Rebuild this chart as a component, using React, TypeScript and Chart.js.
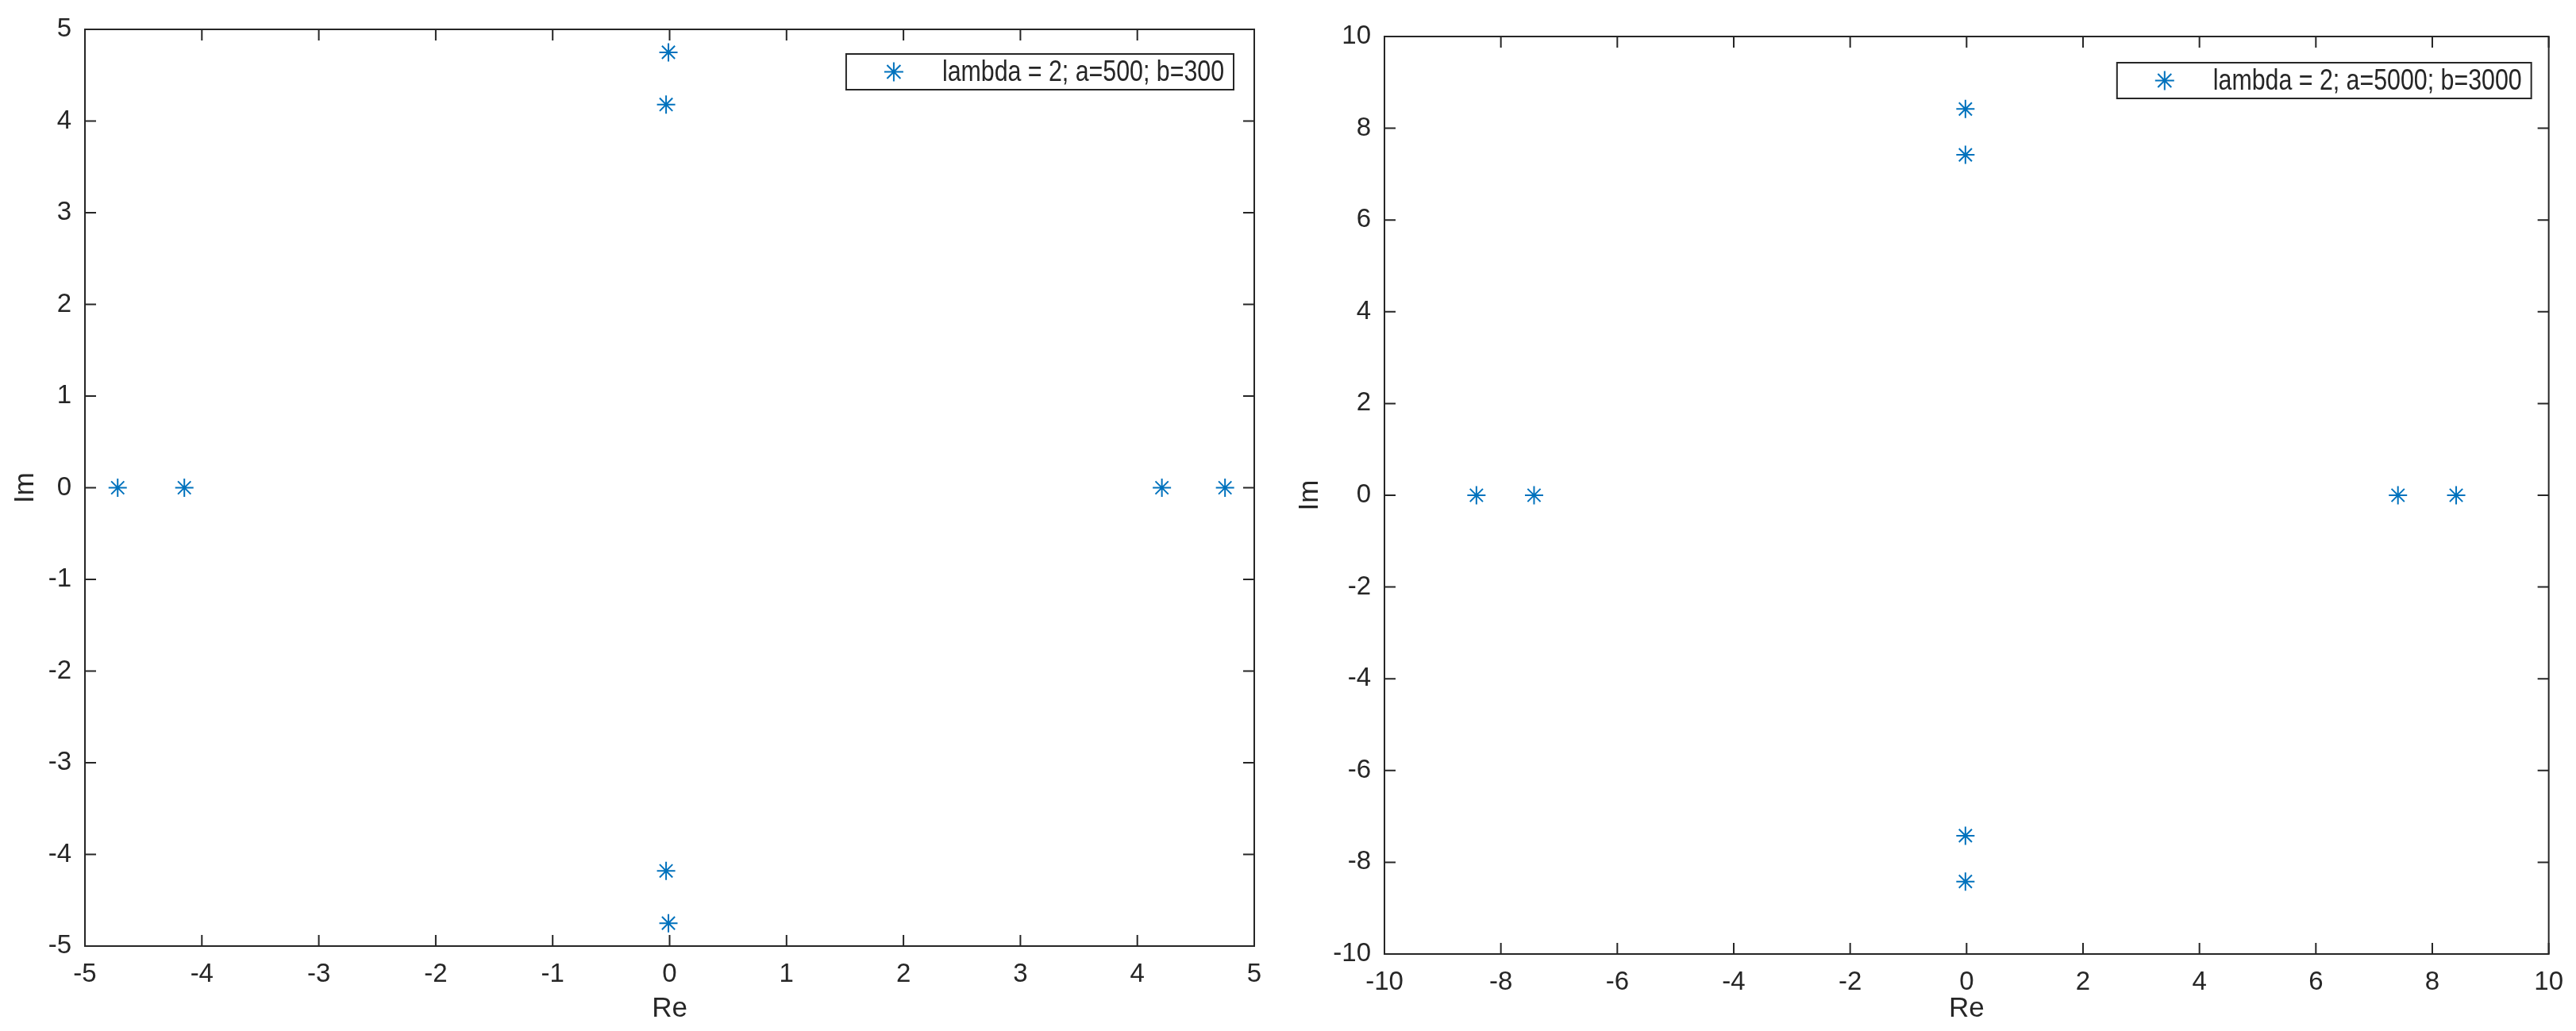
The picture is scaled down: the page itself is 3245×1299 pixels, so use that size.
import React, { useEffect, useRef } from 'react';
import { Chart, registerables } from 'chart.js';
import { drawPoint } from 'chart.js/helpers';

Chart.register(...registerables);

// ---------- data ----------
const leftLabel = 'lambda = 2; a=500; b=300';
const leftRe = [-4.72, -4.15, 4.21, 4.75, -0.01, -0.03, -0.03, -0.01];
const leftIm = [0, 0, 0, 0, 4.75, 4.18, -4.18, -4.75];
const leftTicksX = [-5, -4, -3, -2, -1, 0, 1, 2, 3, 4, 5];
const leftTicksY = [-5, -4, -3, -2, -1, 0, 1, 2, 3, 4, 5];

const rightLabel = 'lambda = 2; a=5000; b=3000';
const rightRe = [-8.42, -7.43, 7.41, 8.41, -0.02, -0.02, -0.02, -0.02];
const rightIm = [0, 0, 0, 0, 8.42, 7.42, -7.42, -8.42];
const rightTicksX = [-10, -8, -6, -4, -2, 0, 2, 4, 6, 8, 10];
const rightTicksY = [-10, -8, -6, -4, -2, 0, 2, 4, 6, 8, 10];

const xTitle = 'Re';
const yTitle = 'Im';

// ---------- style ----------
const AXIS_COLOR = '#262626';
const MARKER_COLOR = '#0072BD';
const FONT_FAMILY = "'Liberation Sans', Arial, Helvetica, sans-serif";

const framePlugin = {
  id: 'matlabFrame',
  afterDatasetsDraw(chart: any) {
    const { ctx, chartArea, scales } = chart;
    const { left, right, top, bottom } = chartArea;
    const xs = scales.x;
    const ys = scales.y;
    const L = 14;
    ctx.save();
    ctx.strokeStyle = AXIS_COLOR;
    ctx.lineWidth = 2;
    ctx.strokeRect(left, top, right - left, bottom - top);
    ctx.beginPath();
    xs.ticks.forEach((t: any) => {
      const p = xs.getPixelForValue(t.value);
      ctx.moveTo(p, bottom);
      ctx.lineTo(p, bottom - L);
      ctx.moveTo(p, top);
      ctx.lineTo(p, top + L);
    });
    ys.ticks.forEach((t: any) => {
      const p = ys.getPixelForValue(t.value);
      ctx.moveTo(left, p);
      ctx.lineTo(left + L, p);
      ctx.moveTo(right, p);
      ctx.lineTo(right - L, p);
    });
    ctx.stroke();
    ctx.restore();
  },
};

const legendPlugin = {
  id: 'matlabLegend',
  afterDraw(chart: any, _args: any, opts: any) {
    const { ctx, chartArea } = chart;
    const ds = chart.data.datasets[0];
    const label: string = ds.label;
    ctx.save();
    const size = 37;
    const narrowFont = `${size}px 'Liberation Sans Narrow', 'Liberation Sans', Arial, sans-serif`;
    const regFont = `${size}px 'Liberation Sans', Arial, sans-serif`;
    ctx.font = narrowFont;
    const narrowW = ctx.measureText(label).width;
    ctx.font = regFont;
    const regW = ctx.measureText(label).width;
    let sx = 1;
    let fontStr = regFont;
    if (narrowW < regW - 2) {
      fontStr = narrowFont;
    } else {
      sx = 0.82;
    }
    ctx.font = fontStr;
    const textW = ctx.measureText(label).width * sx;
    const boxH = 45;
    const textOffset = 121;
    const boxW = textOffset + textW + 12;
    const boxRight = chartArea.right - opts.rightInset;
    const boxLeft = boxRight - boxW;
    const boxTop = chartArea.top + opts.topInset;
    ctx.fillStyle = '#ffffff';
    ctx.fillRect(boxLeft, boxTop, boxW, boxH);
    ctx.strokeStyle = AXIS_COLOR;
    ctx.lineWidth = 2;
    ctx.strokeRect(boxLeft, boxTop, boxW, boxH);
    const cy = boxTop + boxH / 2;
    ctx.strokeStyle = MARKER_COLOR;
    ctx.fillStyle = MARKER_COLOR;
    ctx.lineWidth = 2;
    drawPoint(ctx, { pointStyle: 'star', radius: 12, rotation: 0, borderWidth: 2 } as any, boxLeft + 60, cy);
    ctx.fillStyle = AXIS_COLOR;
    ctx.textBaseline = 'middle';
    ctx.textAlign = 'left';
    ctx.translate(boxLeft + textOffset, cy + 1);
    ctx.scale(sx, 1);
    ctx.fillText(label, 0, 0);
    ctx.restore();
  },
};

interface PlotProps {
  left: number;
  width: number;
  label: string;
  re: number[];
  im: number[];
  ticksX: number[];
  ticksY: number[];
  padTop: number;
  padRight: number;
  yAxisWidth: number;
  xAxisHeight: number;
  yTitlePad: number;
  legendRight: number;
  legendTop: number;
}

const HEIGHT = 1299;

function Plot(p: PlotProps) {
  const ref = useRef<HTMLCanvasElement>(null);
  useEffect(() => {
    const tickFont = { family: FONT_FAMILY, size: 33 };
    const titleFont = { family: FONT_FAMILY, size: 35 };
    const chart = new Chart(ref.current as HTMLCanvasElement, {
      type: 'scatter',
      data: {
        datasets: [
          {
            label: p.label,
            data: p.re.map((x, i) => ({ x, y: p.im[i] })),
            showLine: false,
            pointStyle: 'star',
            pointRadius: 11.5,
            pointHoverRadius: 11.5,
            pointBorderWidth: 2,
            borderColor: MARKER_COLOR,
            backgroundColor: MARKER_COLOR,
          } as any,
        ],
      },
      options: {
        animation: false,
        responsive: false,
        events: [],
        layout: { padding: { top: p.padTop, right: p.padRight, bottom: 0, left: 0 } },
        plugins: {
          legend: { display: false },
          tooltip: { enabled: false },
          matlabLegend: { rightInset: p.legendRight, topInset: p.legendTop },
        } as any,
        scales: {
          x: {
            type: 'linear',
            min: p.ticksX[0],
            max: p.ticksX[p.ticksX.length - 1],
            afterBuildTicks: (s: any) => {
              s.ticks = p.ticksX.map((v) => ({ value: v }));
            },
            afterFit: (s: any) => {
              s.height = p.xAxisHeight;
            },
            ticks: {
              font: tickFont,
              color: AXIS_COLOR,
              padding: 16,
              maxRotation: 0,
              autoSkip: false,
              callback: (v: any) => String(v),
            },
            grid: { display: false, drawTicks: false },
            border: { display: false },
            title: {
              display: true,
              text: xTitle,
              font: titleFont,
              color: AXIS_COLOR,
              padding: { top: 0, bottom: 7 },
            },
          },
          y: {
            type: 'linear',
            min: p.ticksY[0],
            max: p.ticksY[p.ticksY.length - 1],
            afterBuildTicks: (s: any) => {
              s.ticks = p.ticksY.map((v) => ({ value: v }));
            },
            afterFit: (s: any) => {
              s.width = p.yAxisWidth;
            },
            ticks: {
              font: tickFont,
              color: AXIS_COLOR,
              padding: 17,
              autoSkip: false,
              callback: (v: any) => String(v),
            },
            grid: { display: false, drawTicks: false },
            border: { display: false },
            title: {
              display: true,
              text: yTitle,
              font: titleFont,
              color: AXIS_COLOR,
              padding: { top: p.yTitlePad, bottom: 0 },
            },
          },
        },
      },
      plugins: [framePlugin, legendPlugin],
    });
    return () => chart.destroy();
  }, []);
  return (
    <div style={{ position: 'absolute', left: p.left, top: 0, width: p.width, height: HEIGHT }}>
      <canvas ref={ref} width={p.width} height={HEIGHT} style={{ width: p.width, height: HEIGHT, display: 'block' }} />
    </div>
  );
}

export default function App() {
  return (
    <div style={{ position: 'absolute', left: 0, top: 0, width: 3245, height: HEIGHT, background: '#ffffff', overflow: 'hidden' }}>
      <Plot
        left={0}
        width={1620}
        label={leftLabel}
        re={leftRe}
        im={leftIm}
        ticksX={leftTicksX}
        ticksY={leftTicksY}
        padTop={37}
        padRight={40}
        yAxisWidth={107}
        xAxisHeight={107}
        yTitlePad={11}
        legendRight={26}
        legendTop={31}
      />
      <Plot
        left={1620}
        width={1625}
        label={rightLabel}
        re={rightRe}
        im={rightIm}
        ticksX={rightTicksX}
        ticksY={rightTicksY}
        padTop={46}
        padRight={28}
        yAxisWidth={124}
        xAxisHeight={97}
        yTitlePad={9}
        legendRight={22}
        legendTop={33}
      />
    </div>
  );
}
